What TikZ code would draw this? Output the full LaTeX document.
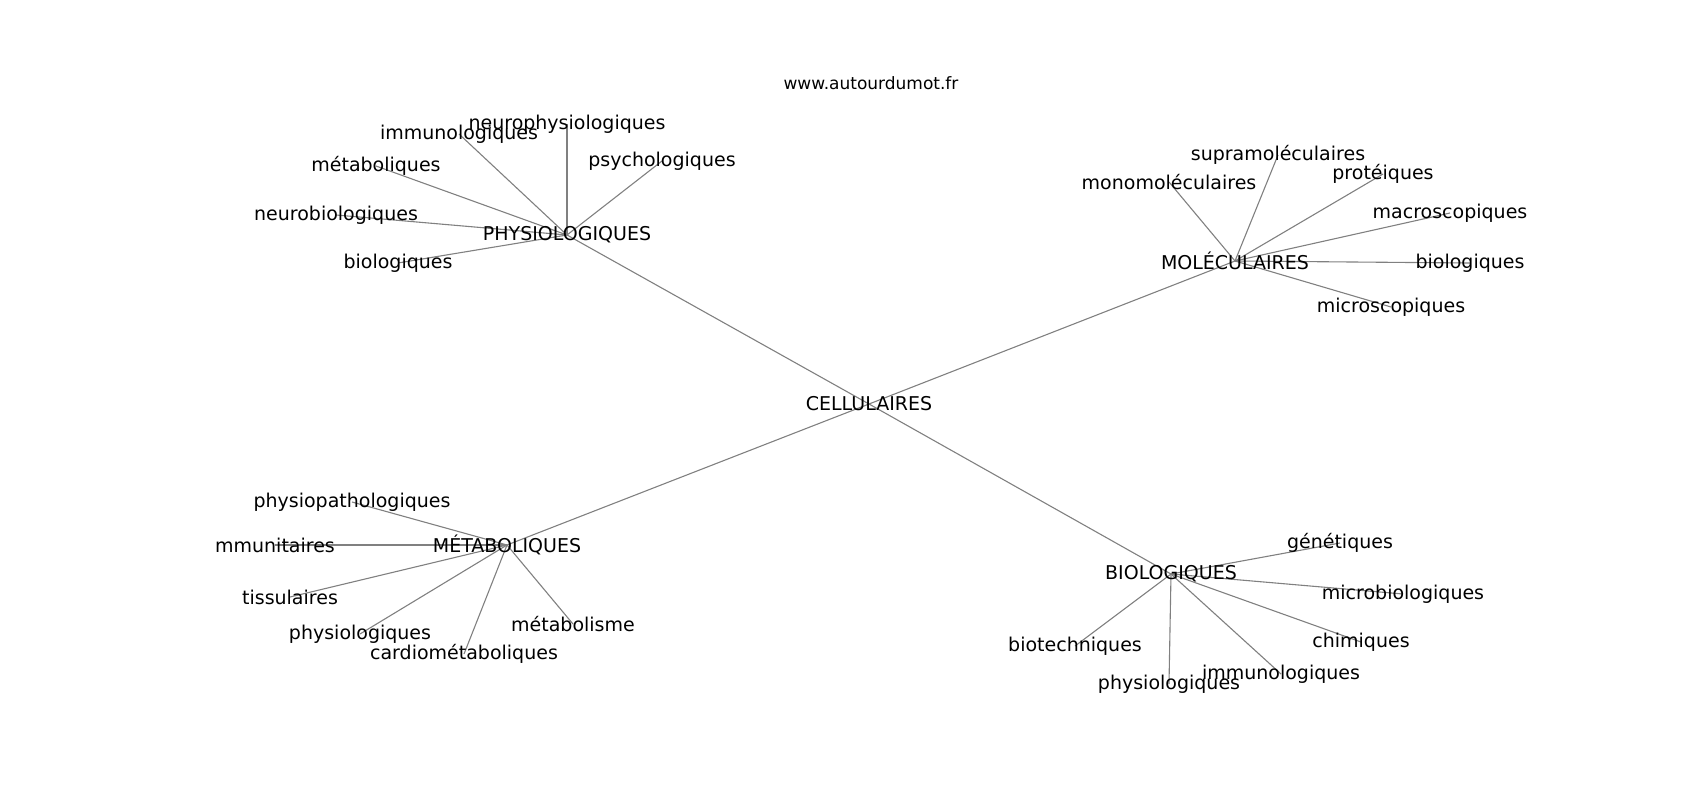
\documentclass[tikz,border=0pt]{standalone}
\usepackage{fontspec}
\setmainfont{DejaVu Sans}
\usetikzlibrary{backgrounds}
\tikzset{
  lbl/.style={inner sep=0pt, anchor=center, font=\fontsize{19}{23}\selectfont, text=black},
  ttl/.style={inner sep=0pt, anchor=center, font=\fontsize{17}{20}\selectfont, text=black},
  edge/.style={draw=black!50, line width=1.1pt}
}
\begin{document}
\begin{tikzpicture}[x=1pt,y=-1pt]
\useasboundingbox (0,0) rectangle (1700,800);
\node[ttl] (title) at (871,83) {www.autourdumot.fr};
% hubs
\node[lbl] (C) at (869,404) {CELLULAIRES};
\node[lbl] (P) at (567,235) {PHYSIOLOGIQUES};
\node[lbl] (M) at (1235,261) {MOLÉCULAIRES};
\node[lbl] (ME) at (507,545) {MÉTABOLIQUES};
\node[lbl] (B) at (1171,574) {BIOLOGIQUES};
% PHYSIOLOGIQUES children
\node[lbl] (p1) at (567,124) {neurophysiologiques};
\node[lbl] (p2) at (459,134) {immunologiques};
\node[lbl] (p3) at (662,161) {psychologiques};
\node[lbl] (p4) at (376,166) {métaboliques};
\node[lbl] (p5) at (336,215) {neurobiologiques};
\node[lbl] (p6) at (398,263) {biologiques};
% MOLÉCULAIRES children
\node[lbl] (m1) at (1278,155) {supramoléculaires};
\node[lbl] (m2) at (1169,182) {monomoléculaires};
\node[lbl] (m3) at (1383,174) {protéiques};
\node[lbl] (m4) at (1450,213) {macroscopiques};
\node[lbl] (m5) at (1470,263) {biologiques};
\node[lbl] (m6) at (1391,307) {microscopiques};
% MÉTABOLIQUES children
\node[lbl] (e1) at (352,502) {physiopathologiques};
\node[lbl] (e2) at (275,545) {mmunitaires};
\node[lbl] (e3) at (290,597) {tissulaires};
\node[lbl] (e4) at (360,634) {physiologiques};
\node[lbl] (e5) at (464,654) {cardiométaboliques};
\node[lbl] (e6) at (573,624) {métabolisme};
% BIOLOGIQUES children
\node[lbl] (b1) at (1340,543) {génétiques};
\node[lbl] (b2) at (1403,594) {microbiologiques};
\node[lbl] (b3) at (1361,642) {chimiques};
\node[lbl] (b4) at (1281,674) {immunologiques};
\node[lbl] (b5) at (1169,684) {physiologiques};
\node[lbl] (b6) at (1075,646) {biotechniques};
\begin{scope}[on background layer]
\foreach \h in {P,M,ME,B} \draw[edge] (C.center) -- (\h.center);
\foreach \c in {p1,p2,p3,p4,p5,p6} \draw[edge] (P.center) -- (\c.center);
\foreach \c in {m1,m2,m3,m4,m5,m6} \draw[edge] (M.center) -- (\c.center);
\foreach \c in {e1,e2,e3,e4,e5,e6} \draw[edge] (ME.center) -- (\c.center);
\foreach \c in {b1,b2,b3,b4,b5,b6} \draw[edge] (B.center) -- (\c.center);
\end{scope}
\end{tikzpicture}
\end{document}
